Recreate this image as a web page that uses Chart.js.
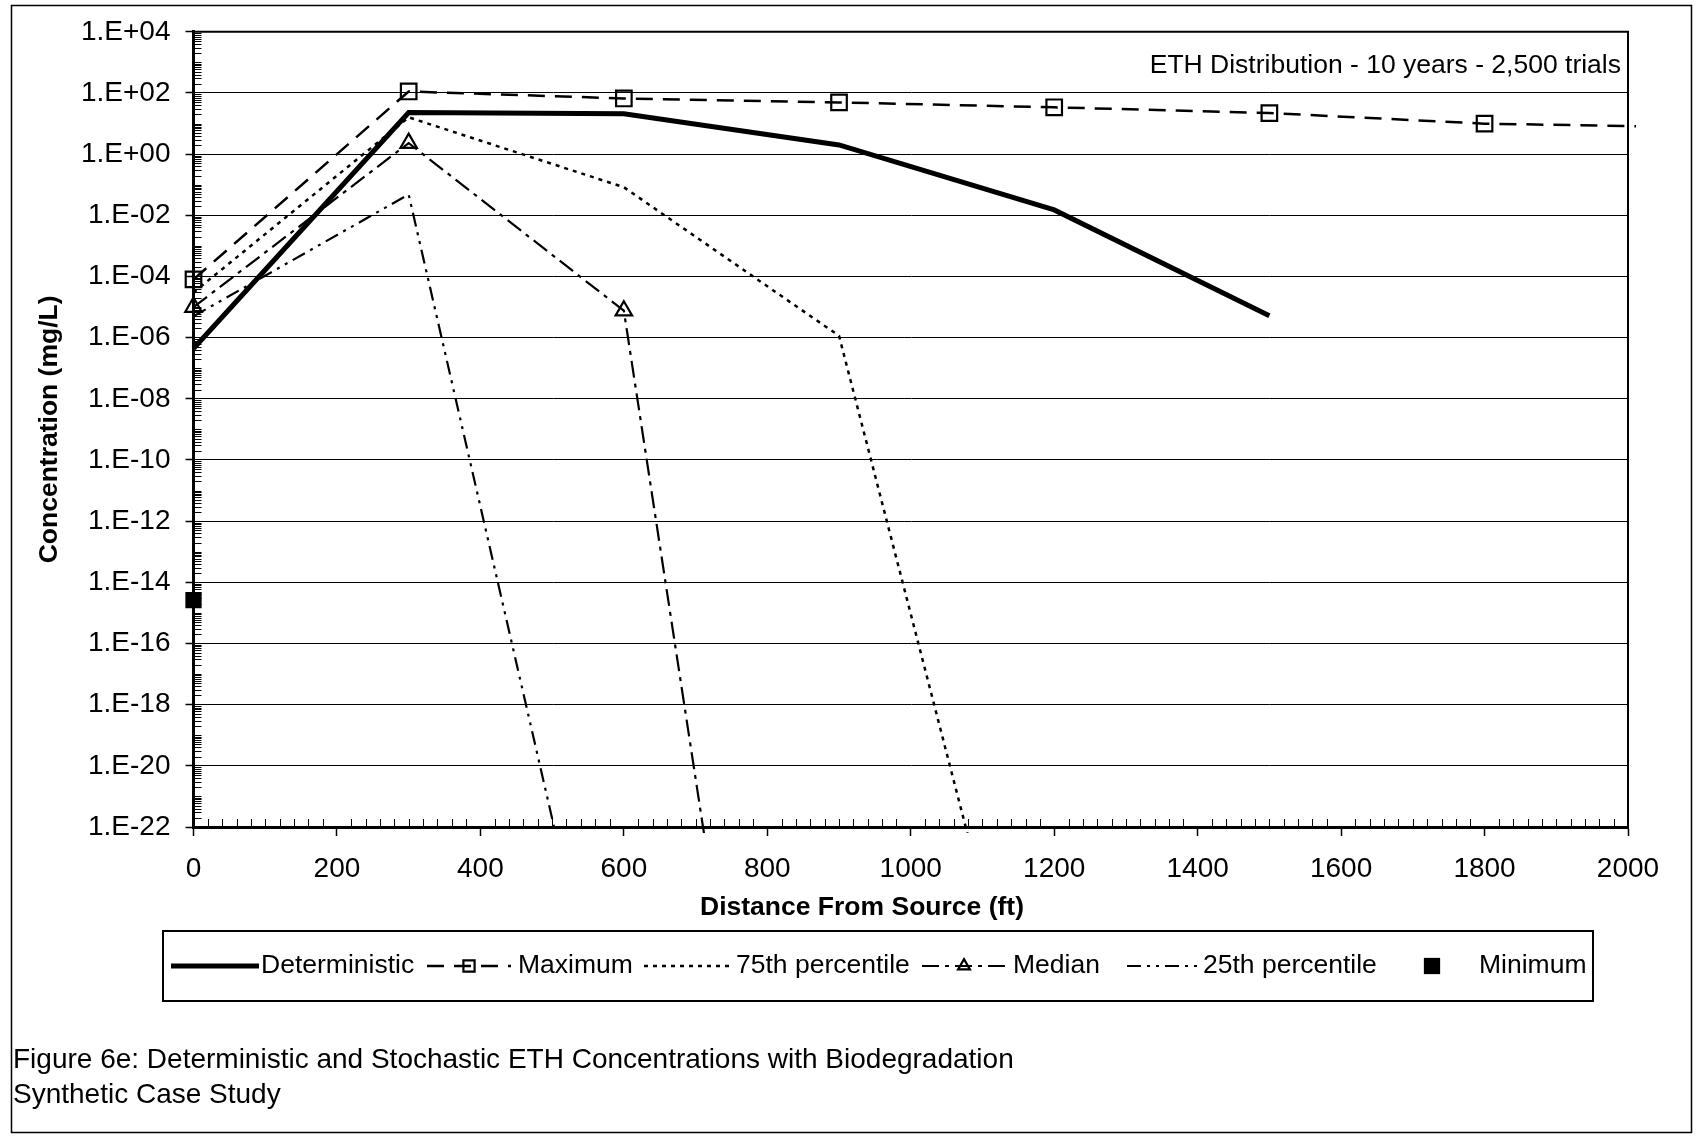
<!DOCTYPE html>
<html>
<head>
<meta charset="utf-8">
<script src="https://cdn.jsdelivr.net/npm/chart.js@4/dist/chart.umd.min.js"></script>
<style>
html, body { margin: 0; padding: 0; background: #fff; }
#wrap { position: relative; width: 1705px; height: 1136px; }
canvas { display: block; }
</style>
</head>
<body>
<div id="wrap"><canvas id="c" width="1705" height="1136"></canvas></div>
<script>
// ---------------- data ----------------
const distances     = [0, 300, 600, 900, 1200, 1500, 1800, 2100];
const deterministic = [4.4e-7, 23, 21, 2.0, 0.015, 5.2e-6, null, null];
const maximum       = [8e-5, 112, 66, 49, 34, 22, 9.9, 7.6];
const percentile75  = [3e-5, 16, 0.083, 1.15e-6, 6e-34, null, null, null];
const median        = [1e-5, 2.3, 7.6e-6, 1e-51, null, null, null, null];
const percentile25  = [5e-6, 0.048, 1.2e-32, null, null, null, null, null];
const minimum       = [2.6e-15, null, null, null, null, null, null, null];

const seriesLabels = ['Deterministic', 'Maximum', '75th percentile', 'Median', '25th percentile', 'Minimum'];
const xTickValues = [0, 200, 400, 600, 800, 1000, 1200, 1400, 1600, 1800, 2000];
const yTickExponents = [-22, -20, -18, -16, -14, -12, -10, -8, -6, -4, -2, 0, 2, 4];

const xTitle = 'Distance From Source (ft)';
const yTitle = 'Concentration (mg/L)';
const noteText = 'ETH Distribution - 10 years - 2,500 trials';
const captionLines = ['Figure 6e: Deterministic and Stochastic ETH Concentrations with Biodegradation', 'Synthetic Case Study'];

// ---------------- helpers ----------------
const FONT = "'Liberation Sans', Arial, Helvetica, sans-serif";
const pts = arr => distances.map((d, i) => ({ x: d, y: arr[i] })).filter(p => p.y !== null);
function expLabel(v) {
  const e = Math.round(Math.log10(v));
  const a = Math.abs(e);
  return '1.E' + (e < 0 ? '-' : '+') + (a < 10 ? '0' : '') + a;
}
const CLIP = { left: 16, top: 16, right: 3, bottom: 6 };

const datasets = [
  { label: seriesLabels[0], data: pts(deterministic), borderColor: '#000', borderWidth: 5,
    borderDash: [], pointRadius: 0, clip: CLIP },
  { label: seriesLabels[1], data: pts(maximum), borderColor: '#000', borderWidth: 2.5,
    borderDash: [17, 10], pointStyle: 'rect', pointRadius: 11, pointBorderWidth: 2.2,
    pointBorderColor: '#000', pointBackgroundColor: 'rgba(0,0,0,0)',
    clip: { left: 16, top: 16, right: 8, bottom: 6 } },
  { label: seriesLabels[2], data: pts(percentile75), borderColor: '#000', borderWidth: 2.5,
    borderDash: [4, 5], pointRadius: 0, clip: CLIP },
  { label: seriesLabels[3], data: pts(median), borderColor: '#000', borderWidth: 2.2,
    borderDash: [17, 6, 4, 6], pointStyle: 'triangle', pointRadius: 9.5, pointBorderWidth: 2.2,
    pointBorderColor: '#000', pointBackgroundColor: 'rgba(0,0,0,0)', clip: CLIP },
  { label: seriesLabels[4], data: pts(percentile25), borderColor: '#000', borderWidth: 2.2,
    borderDash: [14, 6, 3, 6, 3, 6], pointRadius: 0, clip: CLIP },
  { label: seriesLabels[5], data: pts(minimum), showLine: false, borderColor: '#000', borderWidth: 0,
    pointStyle: 'rect', pointRadius: 11.5, pointBorderWidth: 0, pointBackgroundColor: '#000',
    pointBorderColor: '#000', clip: CLIP }
];

// ---------------- decorations plugin ----------------
const legendLayout = [
  { s0: 171, s1: 259, tx: 261 },
  { s0: 427, s1: 511, tx: 518 },
  { s0: 644, s1: 729, tx: 736 },
  { s0: 922, s1: 1006, tx: 1013 },
  { s0: 1127, s1: 1197, tx: 1203 },
  { s0: 1422, s1: 1442, tx: 1479 }
];

const decor = {
  id: 'decor',
  afterDraw(chart) {
    const { ctx, chartArea: ca, scales: { x, y } } = chart;
    const H = Chart.helpers;
    ctx.save();
    ctx.strokeStyle = '#000';
    ctx.fillStyle = '#000';
    ctx.setLineDash([]);

    // top and right frame of plot area
    ctx.lineWidth = 2;
    ctx.beginPath();
    ctx.moveTo(ca.left, ca.top);
    ctx.lineTo(ca.right, ca.top);
    ctx.lineTo(ca.right, ca.bottom);
    ctx.stroke();

    // minor y ticks (inside)
    ctx.lineWidth = 1;
    ctx.beginPath();
    const eMin = yTickExponents[0], eMax = yTickExponents[yTickExponents.length - 1];
    for (let e = eMin; e < eMax; e++) {
      for (let m = 1; m <= 9; m++) {
        if (m === 1 && (e - eMin) % 2 === 0) continue;
        const py = Math.round(y.getPixelForValue(m * Math.pow(10, e))) + 0.5;
        ctx.moveTo(ca.left, py);
        ctx.lineTo(ca.left + 8, py);
      }
    }
    ctx.stroke();

    // minor x ticks (inside)
    ctx.beginPath();
    for (let v = 20; v < 2000; v += 20) {
      if (v % 200 === 0) continue;
      const px = Math.round(x.getPixelForValue(v)) + 0.5;
      ctx.moveTo(px, ca.bottom);
      ctx.lineTo(px, ca.bottom - 8);
    }
    ctx.stroke();

    // x-axis title
    ctx.font = 'bold 26.5px ' + FONT;
    ctx.textAlign = 'center';
    ctx.textBaseline = 'middle';
    ctx.fillText(xTitle, 862, 908);

    // note
    ctx.font = '26.5px ' + FONT;
    ctx.textAlign = 'right';
    ctx.fillText(noteText, 1621, 66);

    // legend box
    ctx.lineWidth = 2;
    ctx.strokeRect(163, 931, 1430, 70);
    const ly = 966;
    chart.data.datasets.forEach((ds, i) => {
      const L = legendLayout[i];
      ctx.save();
      if (ds.showLine !== false) {
        ctx.setLineDash(ds.borderDash || []);
        ctx.lineWidth = ds.borderWidth;
        ctx.strokeStyle = ds.borderColor;
        ctx.beginPath();
        ctx.moveTo(L.s0, ly);
        ctx.lineTo(L.s1, ly);
        ctx.stroke();
      }
      if (ds.pointRadius > 0) {
        ctx.setLineDash([]);
        ctx.fillStyle = ds.pointBackgroundColor;
        ctx.strokeStyle = ds.pointBorderColor;
        ctx.lineWidth = ds.pointBorderWidth;
        const r = ds.showLine === false ? ds.pointRadius : ds.pointRadius * 0.72;
        H.drawPoint(ctx, { pointStyle: ds.pointStyle, radius: r, borderWidth: ds.pointBorderWidth, rotation: 0 },
          (L.s0 + L.s1) / 2, ly);
      }
      ctx.restore();
      ctx.font = '26.5px ' + FONT;
      ctx.fillStyle = '#000';
      ctx.textAlign = 'left';
      ctx.textBaseline = 'middle';
      ctx.fillText(ds.label, L.tx, ly);
    });

    // caption
    ctx.font = '28px ' + FONT;
    ctx.textAlign = 'left';
    ctx.textBaseline = 'middle';
    ctx.fillText(captionLines[0], 13, 1060);
    ctx.fillText(captionLines[1], 13, 1095);

    // outer border
    ctx.lineWidth = 1.5;
    ctx.strokeStyle = '#000';
    ctx.strokeRect(11.5, 5.5, 1680, 1127);
    ctx.restore();
  }
};

// ---------------- chart ----------------
new Chart(document.getElementById('c'), {
  type: 'scatter',
  data: { datasets },
  options: {
    responsive: false,
    devicePixelRatio: 1,
    animation: false,
    showLine: true,
    layout: { padding: { left: 33.5, top: 30, right: 77, bottom: 249 } },
    plugins: { legend: { display: false }, tooltip: { enabled: false } },
    elements: { line: { tension: 0, fill: false } },
    scales: {
      x: {
        type: 'linear', min: 0, max: 2000,
        afterBuildTicks: s => { s.ticks = xTickValues.map(v => ({ value: v })); },
        afterFit: s => { s.height = 60; },
        ticks: { callback: v => String(v), color: '#000', font: { family: FONT, size: 28 }, padding: 16, maxRotation: 0 },
        grid: { drawOnChartArea: false, drawTicks: true, tickLength: 9, tickWidth: 1.5, tickColor: '#000' },
        border: { display: true, color: '#000', width: 3 }
      },
      y: {
        type: 'logarithmic', min: 1e-22, max: 1e4,
        afterBuildTicks: s => { s.ticks = yTickExponents.map(e => ({ value: Math.pow(10, e) })); },
        afterFit: s => { s.width = 160; },
        ticks: { callback: v => expLabel(v), color: '#000', font: { family: FONT, size: 28 }, padding: 15, autoSkip: false },
        grid: { color: '#000', lineWidth: 1, drawTicks: true, tickLength: 8, tickWidth: 1.5, tickColor: '#000' },
        border: { display: true, color: '#000', width: 3 },
        title: { display: true, text: yTitle, color: '#000', font: { family: FONT, size: 26.5, weight: 'bold' }, padding: 0 }
      }
    }
  },
  plugins: [decor]
});
</script>
</body>
</html>
